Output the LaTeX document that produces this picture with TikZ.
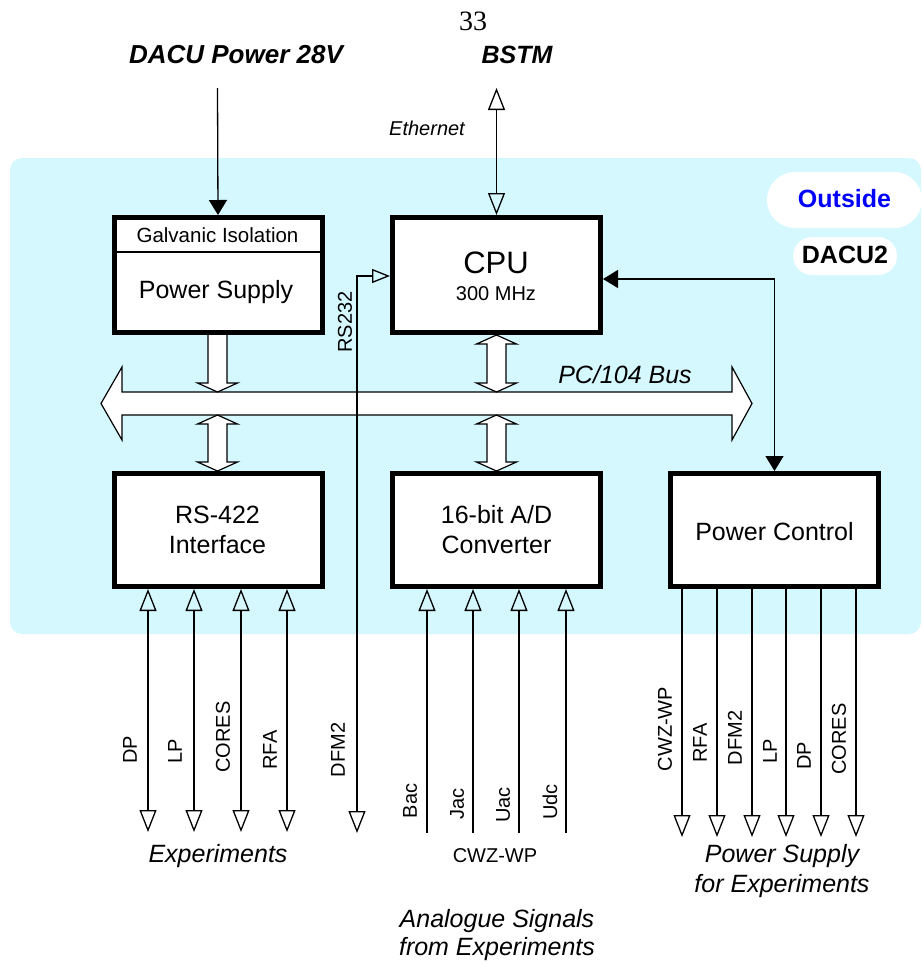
\documentclass[tikz,border=0pt]{standalone}
\usepackage{fontspec}
\setmainfont{Liberation Sans}
\newfontfamily\serifnum{Liberation Serif}
\usetikzlibrary{arrows.meta,calc}
\definecolor{bgcyan}{RGB}{213,248,255}
\definecolor{outblue}{RGB}{0,0,255}
\newcommand\fsz[1]{\fontsize{#1}{#1}\selectfont}
\newcommand\vdbl[3]{%
  \filldraw[fat] (#1,#2) -- (#1+20,#2+9) -- (#1+9.5,#2+9) -- (#1+9.5,#3-9) -- (#1+20,#3-9) -- (#1,#3)
     -- (#1-20,#3-9) -- (#1-9.5,#3-9) -- (#1-9.5,#2+9) -- (#1-20,#2+9) -- cycle;}
\tikzset{
  oh/.tip={Triangle[open, length=22pt, width=17pt]},
  ohs/.tip={Triangle[open, length=18pt, width=14pt]},
  fh/.tip={Triangle[length=15pt, width=18pt]}
}
\begin{document}
\begin{tikzpicture}[x=1pt,y=-1pt,
  box/.style={draw, line width=5pt, fill=white, minimum width=208pt, minimum height=113pt, inner sep=0pt},
  fat/.style={draw=black, line width=1.2pt, fill=white, line join=miter},
  sig/.style={line width=1.3pt},
  txt/.style={inner sep=0pt, anchor=base},
  vlab/.style={inner sep=0pt, rotate=90, font=\fsz{20}},
  pill/.style={fill=white, rounded corners=#1, inner sep=0pt}
]
\useasboundingbox (0,0) rectangle (923,962);

% background
\fill[bgcyan, rounded corners=12] (10,158) rectangle (921,634);
\node[pill=28, minimum width=155pt, minimum height=56pt] (outsidebg) at (844.5,200) {};
\node[txt, font=\fsz{25}\bfseries, text=outblue] (outside) at (844.5,207) {Outside};
\node[pill=19, minimum width=104pt, minimum height=38pt] (dacubg) at (845,256) {};
\node[txt, font=\fsz{25}\bfseries] (dacu) at (845,263) {DACU2};

% top labels
\node[txt, font=\serifnum\fsz{28}] (pg) at (473,30) {33};
\node[txt, font=\fsz{26}\bfseries\itshape] (dpwr) at (236,63) {DACU Power 28V};
\node[txt, font=\fsz{25}\bfseries\itshape] (bstm) at (517,63) {BSTM};
\node[txt, font=\fsz{20}\itshape] (eth) at (427,135) {Ethernet};

% bus
\filldraw[fat] (101,403.5) -- (122,367) -- (122,392) -- (732,392) -- (732,367) -- (752,403.5)
   -- (732,440) -- (732,415) -- (122,415) -- (122,440) -- cycle;
\node[txt, font=\fsz{25}\itshape] (buslab) at (625,383) {PC/104 Bus};

% fat arrows
\filldraw[fat] (208,334) -- (208,383) -- (197.5,383) -- (217.5,392) -- (237.5,383) -- (227,383) -- (227,334) -- cycle;
\vdbl{217.5}{415}{471}
\vdbl{496.5}{335}{392}
\vdbl{496.5}{415}{471}

% boxes
\node[box, minimum height=115pt] (ps) at (218,275) {};
\node[box, minimum height=115pt] (cpu) at (496.5,275) {};
\node[box] (rs) at (218,530) {};
\node[box] (ad) at (496.5,530) {};
\node[box] (pc) at (774.5,530) {};

\coordinate (divy) at (0,252);
\draw[line width=2pt] (ps.west |- divy) -- (ps.east |- divy);
\node[txt, font=\fsz{20.5}] (gal) at (217.5,242) {Galvanic Isolation};
\node[txt, font=\fsz{25}] (pstxt) at (216,298) {Power Supply};
\node[txt, font=\fsz{31}] (cputxt) at (496,273) {CPU};
\node[txt, font=\fsz{20}] (mhz) at (496,300) {300 MHz};
\node[txt, font=\fsz{25}] (rs1) at (217.5,523) {RS-422};
\node[txt, font=\fsz{25}] (rs2) at (217.5,553) {Interface};
\node[txt, font=\fsz{25}] (ad1) at (496.5,523) {16-bit A/D};
\node[txt, font=\fsz{25}] (ad2) at (496.5,553) {Converter};
\node[txt, font=\fsz{25}] (pctxt) at (774.5,540) {Power Control};

% top connectors
\coordinate (pwrin) at (217.5,88);
\draw[sig, -fh] (pwrin) -- (ps.north);
\coordinate (bstmend) at (496.5,88);
\draw[sig, oh-oh] (bstmend) -- (cpu.north);
\coordinate (dfmend) at (357,833);
\draw[sig, ohs-oh] ($(cpu.west)+(0,1)$) -| (dfmend);
\node[vlab] (rs232) at (345,322) {RS232};
\node[vlab] (dfm2a) at (338,750) {DFM2};
\draw[sig, fh-fh] ($(cpu.east)+(0,4)$) -| (pc.north);

% RS-422 signals
\foreach \x [count=\i] in {148,194,241,287}{
  \coordinate (t\i) at (\x,832);
  \draw[sig, oh-oh] (rs.south -| t\i) -- (t\i);
}
\node[vlab] (l1) at (130,750) {DP};
\node[vlab] (l2) at (175,751) {LP};
\node[vlab] (l3) at (223,737) {CORES};
\node[vlab] (l4) at (270,750) {RFA};
\node[txt, font=\fsz{25}\itshape] (expl) at (218,862) {Experiments};

% A/D signals
\foreach \x [count=\i] in {427,473,519,566}{
  \coordinate (b\i) at (\x,833);
  \draw[sig, oh-] (ad.south -| b\i) -- (b\i);
}
\node[vlab] (a1) at (410,801) {Bac};
\node[vlab] (a2) at (457,804) {Jac};
\node[vlab] (a3) at (503,805) {Uac};
\node[vlab] (a4) at (550,802) {Udc};
\node[txt, font=\fsz{20}] (cwz) at (495,862) {CWZ-WP};
\node[txt, font=\fsz{25}\itshape] (an1) at (497,927) {Analogue Signals};
\node[txt, font=\fsz{25}\itshape] (an2) at (497,955) {from Experiments};

% Power control outputs
\foreach \x [count=\i] in {682,717,752,786,821,856}{
  \coordinate (p\i) at (\x,837);
  \draw[sig, -oh] (pc.south -| p\i) -- (p\i);
}
\node[vlab] (q1) at (665,729) {CWZ-WP};
\node[vlab] (q2) at (700,743) {RFA};
\node[vlab] (q3) at (735,738) {DFM2};
\node[vlab] (q4) at (770,751) {LP};
\node[vlab] (q5) at (804,756) {DP};
\node[vlab] (q6) at (839,739) {CORES};
\node[txt, font=\fsz{25}\itshape] (psx1) at (782,862) {Power Supply};
\node[txt, font=\fsz{25}\itshape] (psx2) at (782,892) {for Experiments};
\end{tikzpicture}
\end{document}
